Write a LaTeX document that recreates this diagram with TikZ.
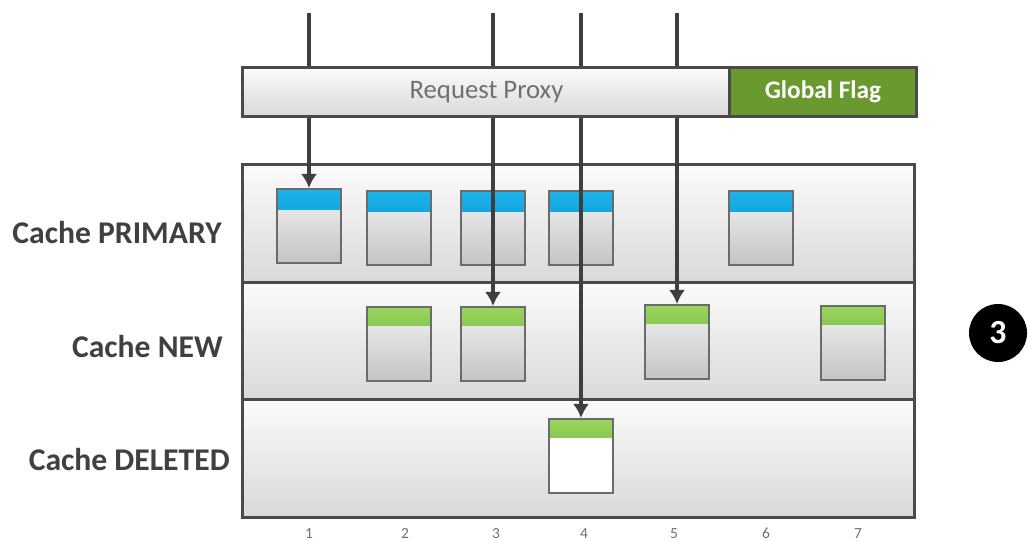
\documentclass[tikz,border=0pt]{standalone}
\usepackage{fontspec}
\setmainfont{Carlito}
\usetikzlibrary{arrows.meta}
\definecolor{framegray}{HTML}{4A4A4A}
\definecolor{arrowgray}{HTML}{3F3F3F}
\definecolor{labelgray}{HTML}{404040}
\definecolor{numgray}{HTML}{707070}
\definecolor{rowtop}{HTML}{FBFBFB}
\definecolor{rowbottom}{HTML}{D9D9D9}
\definecolor{cacheline}{HTML}{6B6B6B}
\definecolor{cachetop}{HTML}{F2F2F2}
\definecolor{cachebottom}{HTML}{C4C4C4}
\definecolor{bluetop}{HTML}{1CB4EA}
\definecolor{bluebottom}{HTML}{0080C4}
\definecolor{greentop}{HTML}{9AD55E}
\definecolor{greenbottom}{HTML}{5FA52E}
\definecolor{flaggreen}{HTML}{6A9A2F}

\begin{document}
\begin{tikzpicture}
  [x=0.025cm, y=-0.025cm,
   row/.style={draw=framegray, line width=0.075cm, minimum width=16.775cm, minimum height=2.95cm, inner sep=0pt, top color=rowtop, bottom color=rowbottom},
   cache/.style={draw=cacheline, line width=0.05cm, minimum width=1.6cm, minimum height=1.85cm, inner sep=0pt, top color=cachetop, bottom color=cachebottom},
   blue cache/.style={cache, path picture={\shade[top color=bluetop, bottom color=bluebottom] (path picture bounding box.north west) rectangle ([yshift=-0.5cm]path picture bounding box.north east);}},
   green cache/.style={cache, path picture={\shade[top color=greentop, bottom color=greenbottom] (path picture bounding box.north west) rectangle ([yshift=-0.45cm]path picture bounding box.north east);}},
   rowlabel/.style={anchor=east, inner sep=0pt, text=labelgray, font=\fontsize{22.5}{26}\selectfont\bfseries},
   colnum/.style={anchor=base, text=numgray, font=\fontsize{11}{13}\selectfont},
   proxy/.style={draw=framegray, line width=0.075cm, minimum width=12.175cm, minimum height=1.2cm, inner sep=0pt, top color=rowtop, bottom color=rowbottom, text=numgray, font=\fontsize{19}{22}\selectfont},
   flag/.style={draw=framegray, line width=0.075cm, minimum width=4.65cm, minimum height=1.2cm, inner sep=0pt, fill=flaggreen, text=white, font=\fontsize{18}{21}\selectfont\bfseries},
   arrow/.style={draw=arrowgray, line width=0.1cm, -{Latex[length=0.35cm,width=0.4cm]}}]
  \useasboundingbox (0,0) rectangle (1029,540);
  % Define rows
  \node[row] (primary) at (578.5,224) {};
  \node[row] (new) at (578.5,341.5) {};
  \node[row] (deleted) at (578.5,458.5) {};
  \node[rowlabel] (lprimary) at (222,233) {Cache PRIMARY};
  \node[rowlabel] (lnew) at (223,347) {Cache NEW};
  \node[rowlabel] (ldeleted) at (230,460) {Cache DELETED};
  % Define caches
  \node[blue cache] (p1) at (309,226) {};
  \node[blue cache] (p2) at (399,228) {};
  \node[blue cache] (p3) at (493,228) {};
  \node[blue cache] (p4) at (581,228) {};
  \node[blue cache] (p6) at (761,228) {};
  \node[green cache] (n2) at (399,344) {};
  \node[green cache] (n3) at (493,344) {};
  \node[green cache] (n5) at (677,342) {};
  \node[green cache] (n7) at (853,343) {};
  \node[green cache, top color=white, bottom color=white] (d4) at (581,456) {};
  % Define column numbers
  \node[colnum] (c1) at (309,538) {1};
  \node[colnum] (c2) at (405,538) {2};
  \node[colnum] (c3) at (496,538) {3};
  \node[colnum] (c4) at (584,538) {4};
  \node[colnum] (c5) at (674,538) {5};
  \node[colnum] (c6) at (766,538) {6};
  \node[colnum] (c7) at (858,538) {7};
  % Define requests
  \coordinate (in1) at (309,13);
  \coordinate (in3) at (493,13);
  \coordinate (in4) at (581,13);
  \coordinate (in5) at (677,13);
  \draw[arrow] (in1) -- (p1.north);
  \draw[arrow] (in3) -- (n3.north);
  \draw[arrow] (in4) -- (d4.north);
  \draw[arrow] (in5) -- (n5.north);
  % Define proxy
  \node[proxy] (proxy) at (486.5,92) {Request Proxy};
  \node[flag] (flag) at (823,92) {Global Flag};
  \node[circle, fill=black, minimum size=1.45cm, inner sep=0pt, text=white, font=\fontsize{24}{28}\selectfont\bfseries] (stepnum) at (998,333) {3};
\end{tikzpicture}
\end{document}
